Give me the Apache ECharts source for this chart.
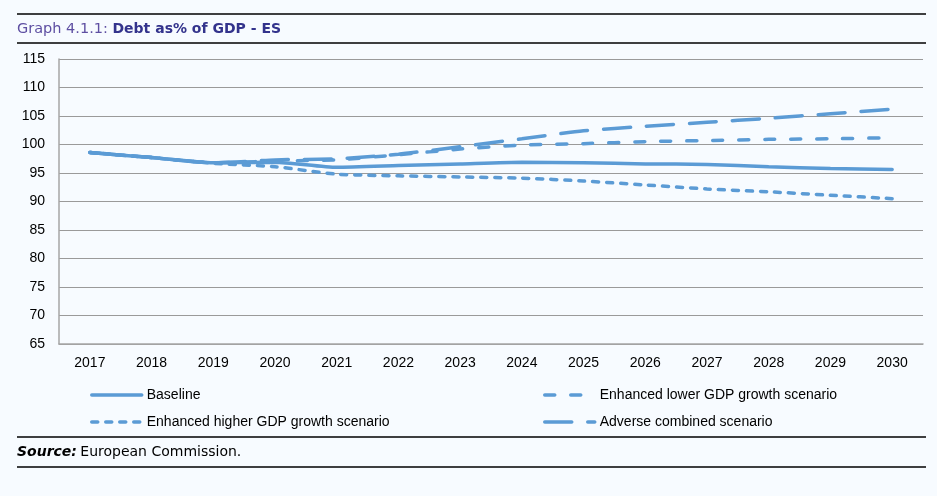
<!DOCTYPE html>
<html>
<head>
<meta charset="utf-8">
<script src="https://cdn.jsdelivr.net/npm/echarts@6/dist/echarts.min.js"></script>
<style>
html,body{margin:0;padding:0;background:#f7fbff;}
#c{width:937px;height:496px;}
</style>
</head>
<body>
<div id="c"></div>
<script>
const years = ['2017','2018','2019','2020','2021','2022','2023','2024','2025','2026','2027','2028','2029','2030'];
const baseline = [98.6, 97.7, 96.8, 96.9, 96.0, 96.3, 96.6, 96.9, 96.8, 96.6, 96.5, 96.1, 95.8, 95.6];
const lowerGrowth = [98.6, 97.7, 96.8, 97.1, 97.3, 98.2, 99.2, 99.9, 100.15, 100.5, 100.7, 100.9, 101.0, 101.2];
const higherGrowth = [98.6, 97.7, 96.7, 96.1, 94.8, 94.5, 94.3, 94.1, 93.6, 92.9, 92.2, 91.7, 91.1, 90.5];
const adverse = [98.6, 97.7, 96.8, 97.3, 97.5, 98.3, 99.6, 101.0, 102.4, 103.2, 103.9, 104.6, 105.4, 106.2];
const yTicks = {min: 65, max: 115, interval: 5};

const blue = '#5b9bd5';
const font = "'Liberation Sans', Arial, sans-serif";
const chart = echarts.init(document.getElementById('c'));

function mk(name, data, dash, z) {
  return {
    name: name, type: 'line', data: data, symbol: 'none', smooth: 0.2, z: z,
    lineStyle: {color: blue, width: 3.5, type: dash, cap: 'round'},
    itemStyle: {color: blue}
  };
}
function lg(name, left, top) {
  return {
    data: [name], left: left, top: top, padding: 0, itemWidth: 50, itemHeight: 14,
    itemStyle: {opacity: 0},
    lineStyle: {width: 3.5},
    textStyle: {fontFamily: font, fontSize: 14, color: '#000'}, selectedMode: false
  };
}

chart.setOption({
  backgroundColor: '#f7fbff',
  animation: false,
  title: {
    left: 17, top: 22, padding: 0,
    text: '{a|Graph 4.1.1: }{b|Debt as% of GDP - ES}',
    textStyle: {
      fontWeight: 'normal',
      rich: {
        a: {fontFamily: 'DejaVu Sans, sans-serif', fontSize: 14.5, fontWeight: 'normal', color: '#5e4fa2'},
        b: {fontFamily: 'DejaVu Sans, sans-serif', fontSize: 14, fontWeight: 'bold', color: '#33338c'}
      }
    }
  },
  grid: {left: 59, right: 14, top: 59, bottom: 152, containLabel: false},
  xAxis: {
    type: 'category', data: years, boundaryGap: true,
    axisLine: {lineStyle: {color: '#a6a6a6', width: 1.5}},
    axisTick: {show: false},
    axisLabel: {fontFamily: font, fontSize: 14, color: '#000', margin: 12}
  },
  yAxis: {
    type: 'value', min: yTicks.min, max: yTicks.max, interval: yTicks.interval,
    axisLine: {show: true, lineStyle: {color: '#a6a6a6', width: 1.5}},
    axisTick: {show: false},
    splitLine: {lineStyle: {color: '#9a9a9a', width: 1.2}},
    axisLabel: {fontFamily: font, fontSize: 14, color: '#000', margin: 14}
  },
  legend: [
    lg('Baseline', 90, 388),
    lg('Enhanced lower GDP growth scenario', 543, 388),
    lg('Enhanced higher GDP growth scenario', 90, 415),
    lg('Adverse combined scenario', 543, 415)
  ],
  series: [
    mk('Baseline', baseline, 'solid', 4),
    mk('Enhanced lower GDP growth scenario', lowerGrowth, [10, 16], 3),
    mk('Enhanced higher GDP growth scenario', higherGrowth, [6, 8], 2),
    mk('Adverse combined scenario', adverse, [27, 16], 1)
  ],
  graphic: [
    {type: 'line', shape: {x1: 17, y1: 14, x2: 926, y2: 14}, style: {stroke: '#000', lineWidth: 1.3}},
    {type: 'line', shape: {x1: 17, y1: 43, x2: 926, y2: 43}, style: {stroke: '#000', lineWidth: 1.3}},
    {type: 'line', shape: {x1: 17, y1: 437, x2: 926, y2: 437}, style: {stroke: '#000', lineWidth: 1.3}},
    {type: 'line', shape: {x1: 17, y1: 467, x2: 926, y2: 467}, style: {stroke: '#000', lineWidth: 1.3}},
    {type: 'text', left: 17, top: 445, style: {
      text: '{a|Source:} {b|European Commission.}',
      rich: {
        a: {fontFamily: 'DejaVu Sans, sans-serif', fontSize: 14, fontWeight: 'bold', fontStyle: 'italic', fill: '#000'},
        b: {fontFamily: 'DejaVu Sans, sans-serif', fontSize: 14, fill: '#000'}
      }
    }}
  ]
});
</script>
</body>
</html>
